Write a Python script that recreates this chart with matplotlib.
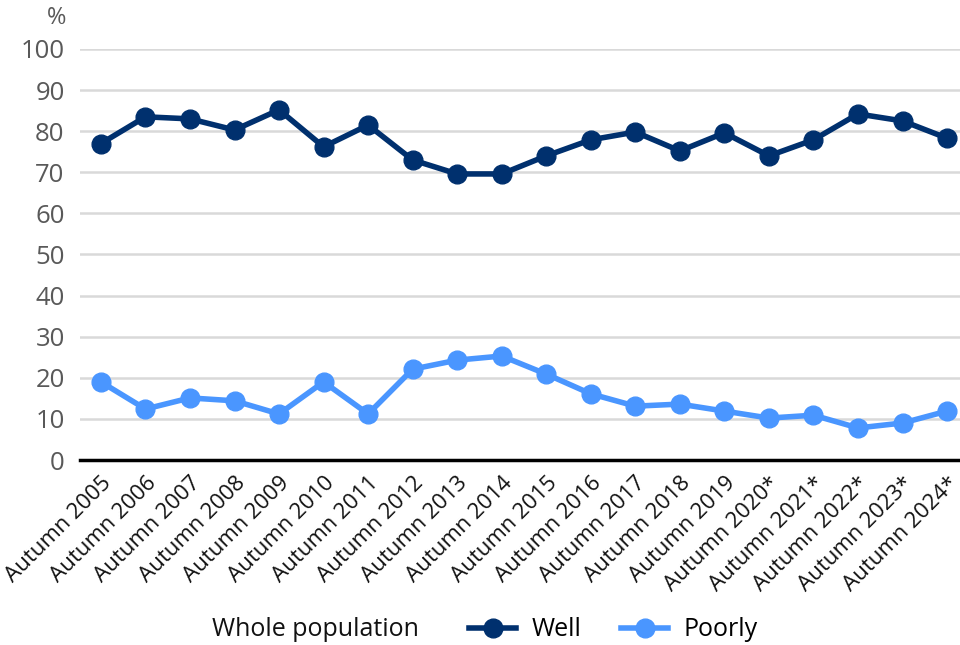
import matplotlib.pyplot as plt
from matplotlib.lines import Line2D

# Data
years = ['Autumn 2005', 'Autumn 2006', 'Autumn 2007', 'Autumn 2008', 'Autumn 2009',
         'Autumn 2010', 'Autumn 2011', 'Autumn 2012', 'Autumn 2013', 'Autumn 2014',
         'Autumn 2015', 'Autumn 2016', 'Autumn 2017', 'Autumn 2018', 'Autumn 2019',
         'Autumn 2020*', 'Autumn 2021*', 'Autumn 2022*', 'Autumn 2023*', 'Autumn 2024*']
well = [77, 83.5, 83, 80.3, 85.2, 76.2, 81.5, 73, 69.6, 69.6,
        74, 77.9, 79.8, 75.2, 79.6, 74, 77.9, 84.2, 82.5, 78.3]
poorly = [19, 12.4, 15.1, 14.4, 11.2, 19, 11.2, 22.1, 24.3, 25.3,
          20.9, 16.1, 13.1, 13.6, 11.9, 10.2, 10.9, 7.8, 9, 11.9]

well_color = '#00306e'
poorly_color = '#4a96ff'

plt.rcParams['font.family'] = ['Open Sans', 'DejaVu Sans']

fig = plt.figure(figsize=(9.6, 6.45), dpi=100)
ax = fig.add_axes([80 / 960, 185 / 645, 880 / 960, 411 / 645])

x = range(len(years))
ax.plot(x, well, color=well_color, lw=4, marker='o', ms=13.5, clip_on=False, zorder=3)
ax.plot(x, poorly, color=poorly_color, lw=4, marker='o', ms=13.5, clip_on=False, zorder=3)

ax.set_xlim(-0.47, 19.29)
ax.set_ylim(0, 100)
ax.set_yticks(range(0, 101, 10))
ax.yaxis.grid(True, color='#d9d9d9', lw=1.8)
ax.set_axisbelow(True)
for s in ['top', 'right', 'left']:
    ax.spines[s].set_visible(False)
ax.spines['bottom'].set_color('black')
ax.spines['bottom'].set_linewidth(2.5)
ax.spines['bottom'].set_zorder(4)

ax.set_xticks(list(x))
ax.set_xticklabels(years, rotation=45, ha='right', rotation_mode='anchor',
                   fontsize=16, color='#111111')
ax.tick_params(axis='x', length=0, pad=9)
ax.tick_params(axis='y', length=0, pad=11, labelsize=18.5, labelcolor='#595959')

fig.text(66 / 960, 1 - 18 / 645, '%', ha='right', va='center', fontsize=17, color='#595959')

# legend row
fig.text(212 / 960, 1 - 630 / 645, 'Whole population', ha='left', va='center',
         fontsize=18, color='#111111')
handles = [Line2D([], [], color=well_color, lw=4, marker='o', ms=13.5),
           Line2D([], [], color=poorly_color, lw=4, marker='o', ms=13.5)]
fig.legend(handles, ['Well', 'Poorly'], loc='center left',
           bbox_to_anchor=(469 / 960, 1 - 630 / 645), ncol=2, frameon=False,
           fontsize=18, handlelength=1.88, columnspacing=1.6, handletextpad=0.62,
           borderpad=0, borderaxespad=0)

fig.savefig('out.png', dpi=100)
